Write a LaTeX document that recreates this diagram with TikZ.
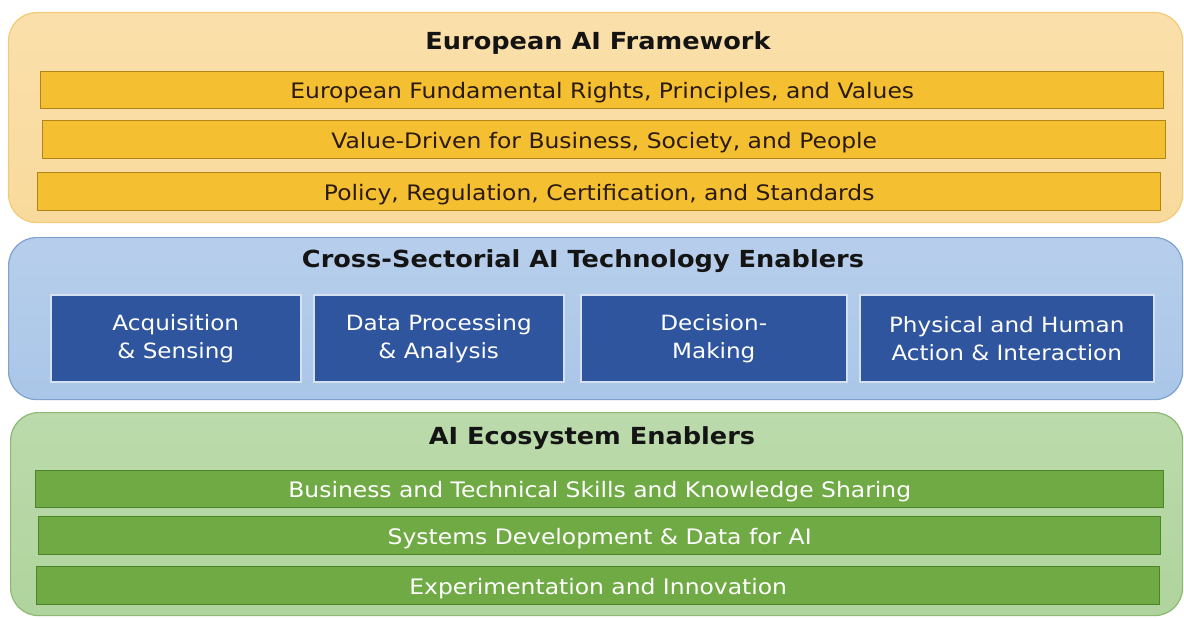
\documentclass[tikz,border=0pt]{standalone}
\usepackage{fontspec}
\setmainfont{DejaVu Sans}
\newfontfamily\bodyfont[FakeStretch=1.1]{DejaVu Sans}
\newfontfamily\titlefont[FakeStretch=1.09]{DejaVu Sans Bold}
\definecolor{youterF}{HTML}{F9DA9C}
\definecolor{youterD}{HTML}{F3CB78}
\definecolor{ybarF}{HTML}{F4BF30}
\definecolor{ybarD}{HTML}{B08418}
\definecolor{ytext}{HTML}{2B1A0E}
\definecolor{bouterF}{HTML}{AAC6E8}
\definecolor{bouterD}{HTML}{7FA2CE}
\definecolor{bboxF}{HTML}{2F559F}
\definecolor{bboxD}{HTML}{D5E1F1}
\definecolor{gouterF}{HTML}{B0D49D}
\definecolor{gouterD}{HTML}{8DB873}
\definecolor{gbarF}{HTML}{70AA45}
\definecolor{gbarD}{HTML}{4A8529}
\tikzset{
  panel/.style={rounded corners=28pt, line width=1.2pt, anchor=north west, inner sep=0pt},
  barbase/.style={line width=1.4pt, anchor=north west, inner sep=0pt, text height=18pt, text depth=1pt, font=\bodyfont\fontsize{21.3}{24}\selectfont},
  ybar/.style={barbase, draw=ybarD, fill=ybarF, text=ytext},
  gbar/.style={barbase, draw=gbarD, fill=gbarF, text=white},
  bbox/.style={draw=bboxD, fill=bboxF, line width=1.5pt, anchor=north west, inner sep=0pt, text=white, align=center, font=\bodyfont\fontsize{21}{28}\selectfont},
  ttl/.style={font=\titlefont\fontsize{23.5}{26}\selectfont, text=black!92}
}
\begin{document}
\begin{tikzpicture}[x=1pt,y=-1pt]
\useasboundingbox (0,0) rectangle (1184,618);
% panels
\node[panel, draw=youterD, top color=youterF!85!white, bottom color=youterF, minimum width=1174pt, minimum height=210pt] (yp) at (8,12) {};
\node[panel, draw=bouterD, top color=bouterF!85!white, bottom color=bouterF, minimum width=1174pt, minimum height=162pt] (bp) at (8,237) {};
\node[panel, draw=gouterD, top color=gouterF!85!white, bottom color=gouterF, minimum width=1172pt, minimum height=203pt] (gp) at (10,412) {};
% titles
\node[ttl] (yt) at (598,43) {European AI Framework};
\node[ttl] (bt) at (583,261) {Cross-Sectorial AI Technology Enablers};
\node[ttl] (gt) at (592,438) {AI Ecosystem Enablers};
% yellow bars
\node[ybar, minimum width=1123pt, minimum height=37pt] (y1) at (40,71) {European Fundamental Rights, Principles, and Values};
\node[ybar, minimum width=1123pt, minimum height=38pt] (y2) at (42,120) {Value-Driven for Business, Society, and People};
\node[ybar, minimum width=1123pt, minimum height=38pt] (y3) at (37,172) {Policy, Regulation, Certification, and Standards};
% blue boxes
\node[bbox, minimum width=250pt, minimum height=87pt] (b1) at (50,294) {Acquisition\\\& Sensing};
\node[bbox, minimum width=250pt, minimum height=87pt] (b2) at (313,294) {Data Processing\\\& Analysis};
\node[bbox, minimum width=266pt, minimum height=87pt] (b3) at (580,294) {Decision-\\Making};
\node[bbox, minimum width=294pt, minimum height=87pt] (b4) at (859,294) {Physical and Human\\Action \& Interaction};
% green bars
\node[gbar, minimum width=1128pt, minimum height=37pt] (g1) at (35,470) {Business and Technical Skills and Knowledge Sharing};
\node[gbar, minimum width=1122pt, minimum height=38pt] (g2) at (38,516) {Systems Development \& Data for AI};
\node[gbar, minimum width=1123pt, minimum height=38pt] (g3) at (36,566) {Experimentation and Innovation};
\end{tikzpicture}
\end{document}
